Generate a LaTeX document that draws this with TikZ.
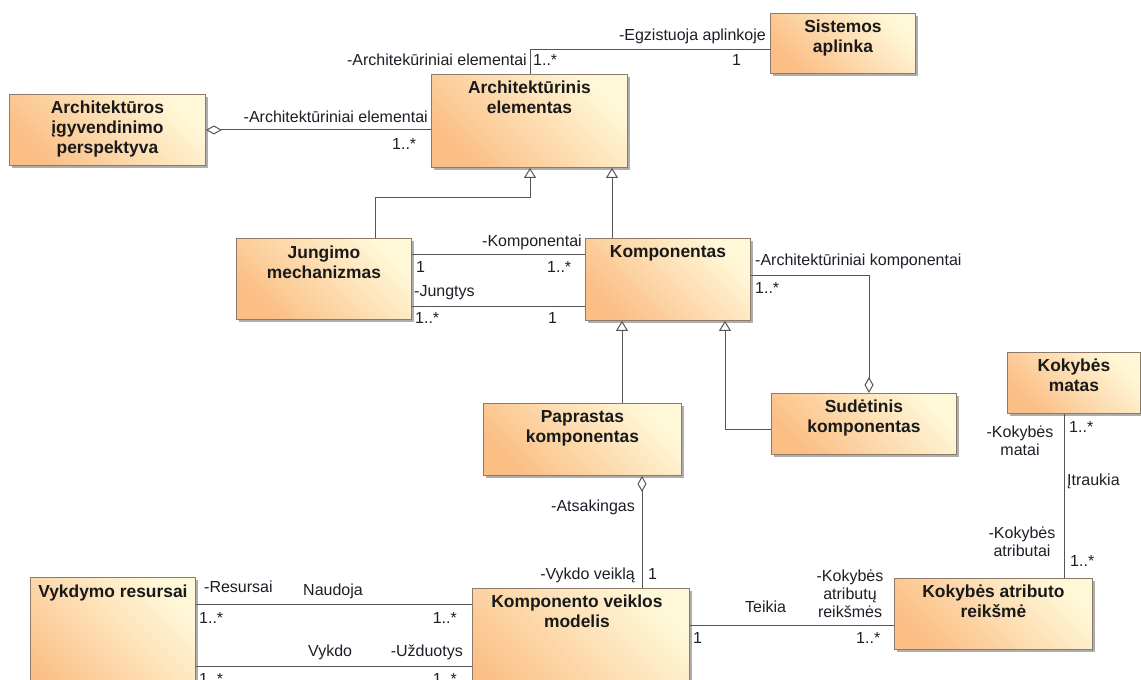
\documentclass[tikz,border=0pt]{standalone}
\usepackage{fontspec}
\setmainfont{Liberation Sans}
\usetikzlibrary{arrows.meta,shadows}
\definecolor{orng}{HTML}{FBBE85}
\definecolor{cream}{HTML}{FFF8D8}
\definecolor{bord}{HTML}{8C7B6B}
\definecolor{linec}{HTML}{555555}
\definecolor{labc}{HTML}{1E1E28}
\tikzset{
  cls/.style={draw=bord, line width=0.9pt, top color=cream, bottom color=orng, shading angle=-45,
    anchor=north west, inner sep=0pt,
    drop shadow={shadow xshift=3pt, shadow yshift=-3pt, fill=black!35, opacity=0.9}},
  ttl/.style={font=\bfseries\fontsize{17.4}{20}\selectfont, align=center, anchor=north, inner sep=0pt, text=black!90},
  lab/.style={font=\fontsize{16}{18}\selectfont, text=labc, inner sep=0pt},
  mlab/.style={lab, align=center, anchor=north},
  conn/.style={draw=linec, line width=1pt},
  gen/.style={conn, -{Triangle[open, length=10pt, width=12pt]}},
  agg/.style={conn, {Diamond[open, length=16pt, width=9pt]}-},
}
\begin{document}
\begin{tikzpicture}[x=1pt, y=-1pt]
\useasboundingbox (0,0) rectangle (1141,680);
\clip (0,0) rectangle (1141,680);
\fill[white] (0,0) rectangle (1141,680);

% classes
\node[cls, minimum width=145pt, minimum height=60pt] (sa) at (770,13) {};
\node[ttl] (sa-t) at ([yshift=-7pt]sa.north) {Sistemos\\aplinka};
\node[cls, minimum width=196pt, minimum height=93pt] (ae) at (431,74) {};
\node[ttl] (ae-t) at ([yshift=-7pt]ae.north) {Architektūrinis\\elementas};
\node[cls, minimum width=196pt, minimum height=71pt] (ap) at (9,94) {};
\node[ttl] (ap-t) at ([yshift=-7pt]ap.north) {Architektūros\\įgyvendinimo\\perspektyva};
\node[cls, minimum width=175pt, minimum height=81pt] (jm) at (236,238) {};
\node[ttl] (jm-t) at ([yshift=-8pt]jm.north) {Jungimo\\mechanizmas};
\node[cls, minimum width=165pt, minimum height=82pt] (kp) at (585,238) {};
\node[ttl] (kp-t) at ([yshift=-7pt]kp.north) {Komponentas};
\node[cls, minimum width=198pt, minimum height=72pt] (pk) at (483,403) {};
\node[ttl] (pk-t) at ([yshift=-7pt]pk.north) {Paprastas\\komponentas};
\node[cls, minimum width=185pt, minimum height=61pt] (sk) at (771,393) {};
\node[ttl] (sk-t) at ([yshift=-7pt]sk.north) {Sudėtinis\\komponentas};
\node[cls, minimum width=133pt, minimum height=61pt] (km) at (1007,352) {};
\node[ttl] (km-t) at ([yshift=-7pt]km.north) {Kokybės\\matas};
\node[cls, minimum width=198pt, minimum height=71pt] (kar) at (894,578) {};
\node[ttl] (kar-t) at ([yshift=-7pt]kar.north) {Kokybės atributo\\reikšmė};
\node[cls, minimum width=165pt, minimum height=140pt] (vr) at (30,577) {};
\node[ttl] (vr-t) at ([yshift=-8pt]vr.north) {Vykdymo resursai};
\node[cls, minimum width=217pt, minimum height=130pt] (kvm) at (472,588) {};
\node[ttl] (kvm-t) at ([yshift=-7pt,xshift=-4pt]kvm.north) {Komponento veiklos\\modelis};

% connectors
\draw[agg] (ap.east) -- (ap.east -| ae.west);
\draw[conn] ([xshift=99pt]ae.north west) |- ([yshift=-6pt]sa.west);
\draw[gen] ([xshift=139pt]jm.north west) -- ++(0,-41) -| ([xshift=99pt]ae.south west);
\draw[gen] ([xshift=27pt]kp.north west) -- ([xshift=27pt]kp.north west |- ae.south);
\draw[conn] ([yshift=-16pt]jm.north east) -- ([yshift=-16pt]jm.north east -| kp.west);
\draw[conn] ([yshift=-68pt]jm.north east) -- ([yshift=-68pt]jm.north east -| kp.west);
\draw[gen] ([xshift=139pt]pk.north west) -- ([xshift=139pt]pk.north west |- kp.south);
\draw[gen] ([yshift=-36pt]sk.north west) -| ([xshift=140pt]kp.south west);
\draw[agg] ([xshift=98pt]sk.north west) |- ([yshift=-37pt]kp.north east);
\draw[agg] ([xshift=159pt]pk.south west) -- ([xshift=159pt]pk.south west |- kvm.north);
\draw[conn] ([yshift=-27pt]vr.north east) -- ([yshift=-27pt]vr.north east -| kvm.west);
\draw[conn] ([yshift=-89pt]vr.north east) -- ([yshift=-89pt]vr.north east -| kvm.west);
\draw[conn] ([yshift=-37pt]kvm.north east) -- ([yshift=-37pt]kvm.north east -| kar.west);
\draw[conn] ([xshift=57pt]km.south west) -- ([xshift=57pt]km.south west |- kar.north);

% labels
\node[lab, anchor=base east] (l1) at (766,40) {-Egzistuoja aplinkoje};
\node[lab, anchor=base east] (l2) at (527,65) {-Architekūriniai elementai};
\node[lab, anchor=base west] (l3) at (533,65) {1..*};
\node[lab, anchor=base west] (l4) at (732,65) {1};
\node[lab, anchor=base east] (l5) at (428,122) {-Architektūriniai elementai};
\node[lab, anchor=base west] (l6) at (392,149) {1..*};
\node[lab, anchor=base east] (l7) at (582,246) {-Komponentai};
\node[lab, anchor=base west] (l8) at (416,272) {1};
\node[lab, anchor=base west] (l9) at (547,272) {1..*};
\node[lab, anchor=base west] (l10) at (414,296) {-Jungtys};
\node[lab, anchor=base west] (l11) at (415,323) {1..*};
\node[lab, anchor=base west] (l12) at (548,323) {1};
\node[lab, anchor=base west] (l13) at (755,265) {-Architektūriniai komponentai};
\node[lab, anchor=base west] (l14) at (755,293) {1..*};
\node[lab, anchor=base east] (l15) at (635,511) {-Atsakingas};
\node[lab, anchor=base east] (l16) at (635,579) {-Vykdo veiklą};
\node[lab, anchor=base west] (l17) at (648,579) {1};
\node[lab, anchor=base west] (l18) at (204,592) {-Resursai};
\node[lab, anchor=base west] (l19) at (303,595) {Naudoja};
\node[lab, anchor=base west] (l20) at (199,623) {1..*};
\node[lab, anchor=base east] (l21) at (457,623) {1..*};
\node[lab, anchor=base west] (l22) at (308,656) {Vykdo};
\node[lab, anchor=base east] (l23) at (463,656) {-Užduotys};
\node[lab, anchor=base west] (l24) at (199,684) {1..*};
\node[lab, anchor=base east] (l25) at (457,684) {1..*};
\node[lab, anchor=base west] (l26) at (745,612) {Teikia};
\node[mlab] (l27) at (850,570) {-Kokybės\\atributų\\reikšmės};
\node[lab, anchor=base west] (l28) at (856,643) {1..*};
\node[lab, anchor=base west] (l29) at (693,643) {1};
\node[mlab] (l30) at (1020,426) {-Kokybės\\matai};
\node[lab, anchor=base west] (l31) at (1069,432) {1..*};
\node[lab, anchor=base west] (l32) at (1067,485) {Įtraukia};
\node[mlab] (l33) at (1022,527) {-Kokybės\\atributai};
\node[lab, anchor=base west] (l34) at (1070,566) {1..*};
\end{tikzpicture}
\end{document}
